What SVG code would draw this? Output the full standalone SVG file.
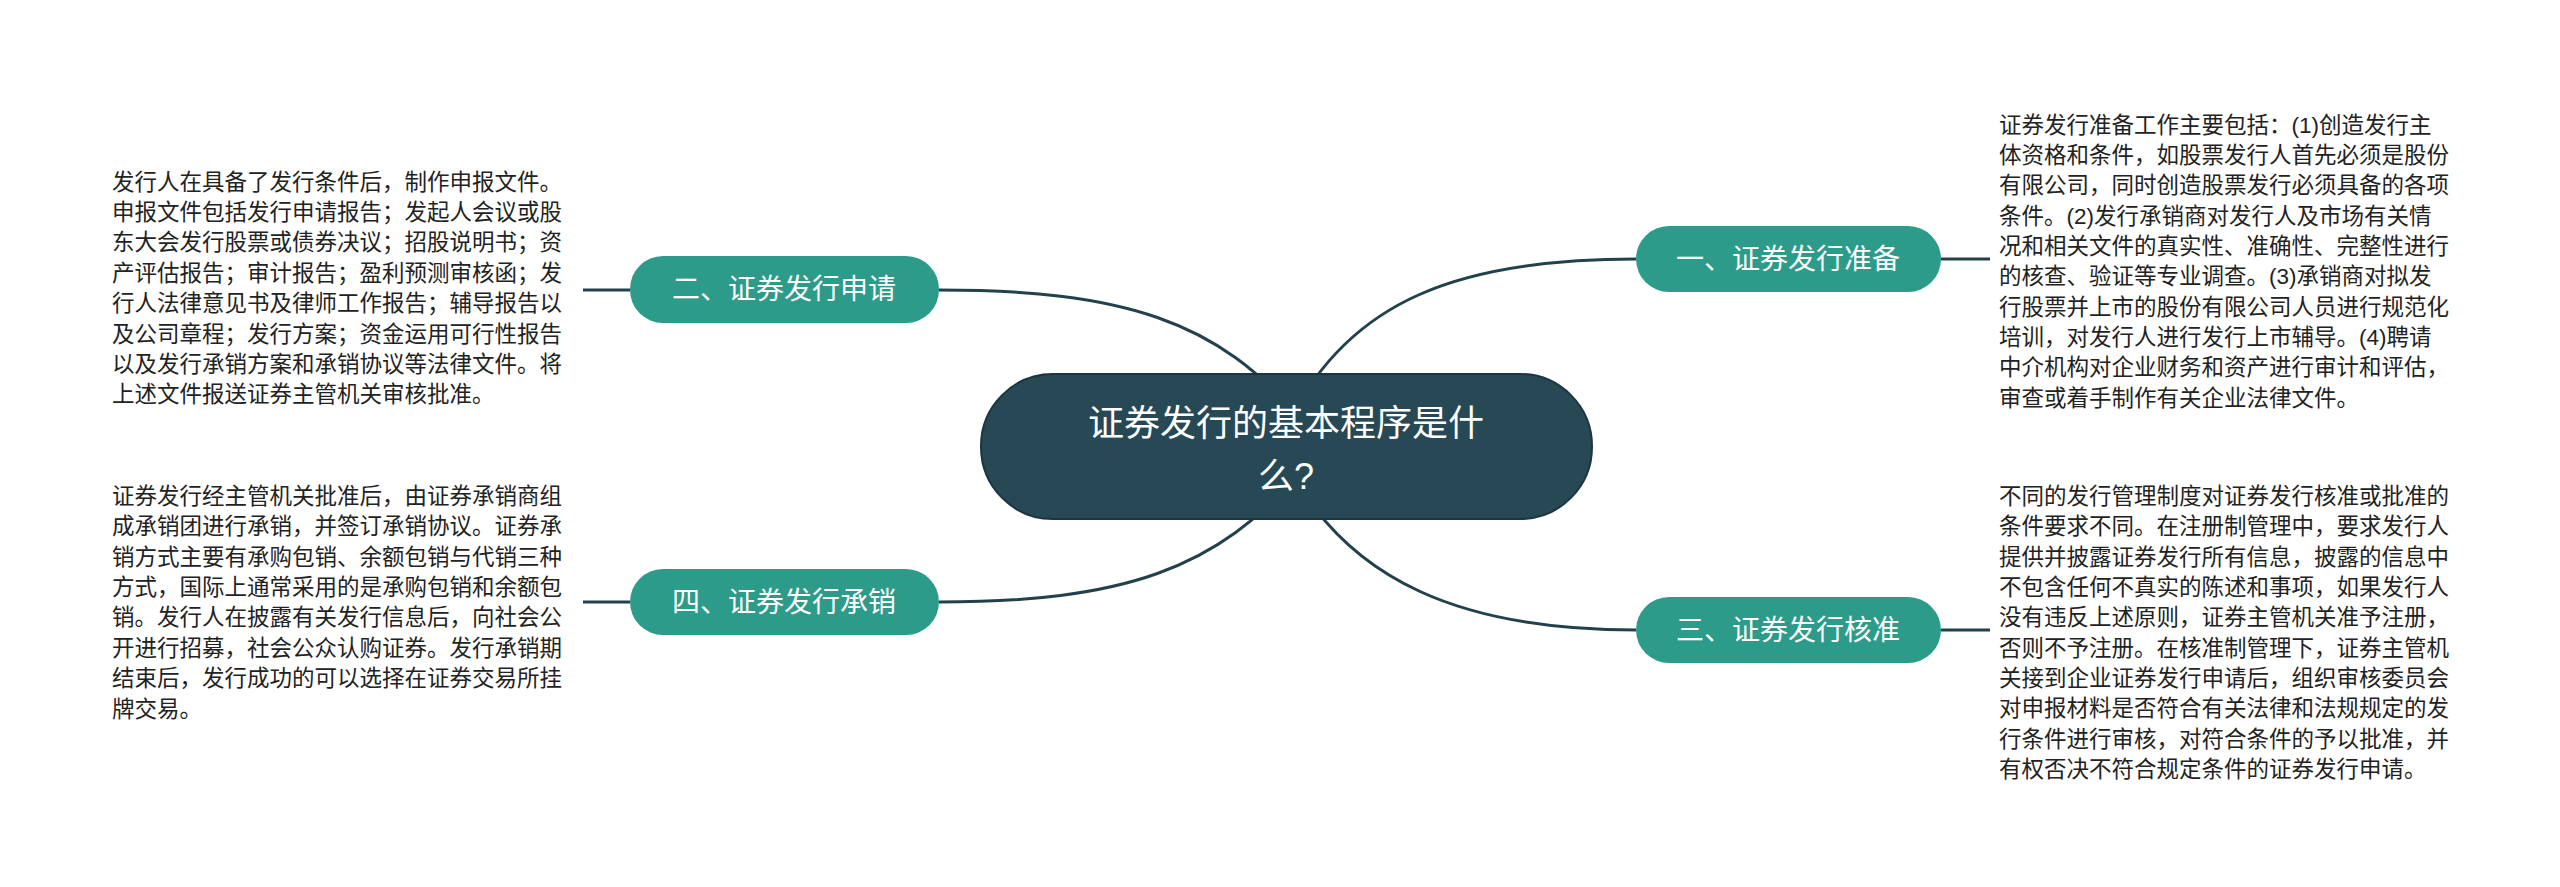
<svg xmlns="http://www.w3.org/2000/svg" width="2560" height="887" viewBox="0 0 2560 887">
<style>
.c{fill:none;stroke:#23414c;stroke-width:3}
.b{fill:#2d9b89}
.bt{fill:#fff;font-family:"Liberation Sans","Noto Sans CJK SC",sans-serif;font-size:28px;text-anchor:middle}
.t{fill:#222;font-family:"Liberation Sans","Noto Sans CJK SC",sans-serif;font-size:22.5px}
</style>
<rect width="2560" height="887" fill="#fff"/>
<g id="connectors">
<path class="c" d="M939 290 C1120 290 1220 320 1300 420"/>
<path class="c" d="M1636 259 C1460 259 1350 300 1290 420"/>
<path class="c" d="M939 602 C1120 602 1220 570 1300 470"/>
<path class="c" d="M1636 630 C1460 630 1350 580 1290 470"/>
<path class="c" d="M583 290 H630 M583 602 H630 M1941 259 H1990 M1941 630 H1990"/>
</g>
<g id="center">
<rect x="981" y="374" width="611" height="145" rx="72" fill="#274855" stroke="#1c3540" stroke-width="2"/>
<text x="1286" y="436" fill="#fff" font-family="Liberation Sans,Noto Sans CJK SC,sans-serif" font-size="36" text-anchor="middle">证券发行的基本程序是什</text>
<text x="1286" y="489" fill="#fff" font-family="Liberation Sans,Noto Sans CJK SC,sans-serif" font-size="36" text-anchor="middle">么?</text>
</g>
<g id="n1"><rect class="b" x="1636" y="226" width="305" height="66" rx="33"/><text class="bt" x="1788" y="269">一、证券发行准备</text></g>
<g id="n2"><rect class="b" x="630" y="256" width="309" height="67" rx="33"/><text class="bt" x="784" y="299">二、证券发行申请</text></g>
<g id="n3"><rect class="b" x="1636" y="597" width="305" height="66" rx="33"/><text class="bt" x="1788" y="640">三、证券发行核准</text></g>
<g id="n4"><rect class="b" x="630" y="569" width="309" height="66" rx="33"/><text class="bt" x="784" y="612">四、证券发行承销</text></g>
<g id="t2" class="t">
<text x="112" y="190">发行人在具备了发行条件后，制作申报文件。</text>
<text x="112" y="220">申报文件包括发行申请报告；发起人会议或股</text>
<text x="112" y="250">东大会发行股票或债券决议；招股说明书；资</text>
<text x="112" y="281">产评估报告；审计报告；盈利预测审核函；发</text>
<text x="112" y="311">行人法律意见书及律师工作报告；辅导报告以</text>
<text x="112" y="342">及公司章程；发行方案；资金运用可行性报告</text>
<text x="112" y="372">以及发行承销方案和承销协议等法律文件。将</text>
<text x="112" y="402">上述文件报送证券主管机关审核批准。</text>
</g>
<g id="t4" class="t">
<text x="112" y="504">证券发行经主管机关批准后，由证券承销商组</text>
<text x="112" y="534">成承销团进行承销，并签订承销协议。证券承</text>
<text x="112" y="565">销方式主要有承购包销、余额包销与代销三种</text>
<text x="112" y="595">方式，国际上通常采用的是承购包销和余额包</text>
<text x="112" y="625">销。发行人在披露有关发行信息后，向社会公</text>
<text x="112" y="656">开进行招募，社会公众认购证券。发行承销期</text>
<text x="112" y="686">结束后，发行成功的可以选择在证券交易所挂</text>
<text x="112" y="717">牌交易。</text>
</g>
<g id="t1" class="t">
<text x="1999" y="133">证券发行准备工作主要包括：(1)创造发行主</text>
<text x="1999" y="163">体资格和条件，如股票发行人首先必须是股份</text>
<text x="1999" y="193">有限公司，同时创造股票发行必须具备的各项</text>
<text x="1999" y="224">条件。(2)发行承销商对发行人及市场有关情</text>
<text x="1999" y="254">况和相关文件的真实性、准确性、完整性进行</text>
<text x="1999" y="284">的核查、验证等专业调查。(3)承销商对拟发</text>
<text x="1999" y="315">行股票并上市的股份有限公司人员进行规范化</text>
<text x="1999" y="345">培训，对发行人进行发行上市辅导。(4)聘请</text>
<text x="1999" y="375">中介机构对企业财务和资产进行审计和评估，</text>
<text x="1999" y="406">审查或着手制作有关企业法律文件。</text>
</g>
<g id="t3" class="t">
<text x="1999" y="504">不同的发行管理制度对证券发行核准或批准的</text>
<text x="1999" y="534">条件要求不同。在注册制管理中，要求发行人</text>
<text x="1999" y="565">提供并披露证券发行所有信息，披露的信息中</text>
<text x="1999" y="595">不包含任何不真实的陈述和事项，如果发行人</text>
<text x="1999" y="625">没有违反上述原则，证券主管机关准予注册，</text>
<text x="1999" y="656">否则不予注册。在核准制管理下，证券主管机</text>
<text x="1999" y="686">关接到企业证券发行申请后，组织审核委员会</text>
<text x="1999" y="716">对申报材料是否符合有关法律和法规规定的发</text>
<text x="1999" y="747">行条件进行审核，对符合条件的予以批准，并</text>
<text x="1999" y="777">有权否决不符合规定条件的证券发行申请。</text>
</g>
</svg>
